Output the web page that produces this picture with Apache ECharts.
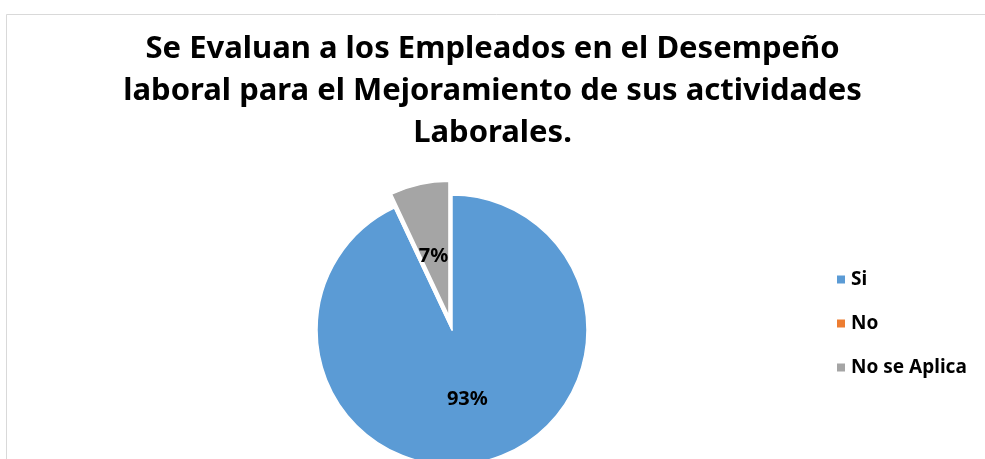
<!DOCTYPE html>
<html>
<head>
<meta charset="utf-8">
<script src="https://cdn.jsdelivr.net/npm/echarts@6/dist/echarts.min.js"></script>
<style>
  html, body { margin: 0; padding: 0; background: #fff; }
  #chart { width: 985px; height: 459px; }
</style>
</head>
<body>
<div id="chart"></div>
<script>
// datos
const categorias = ["Si", "No", "No se Aplica"];
const valores = [93, 0, 7];
const colores = ["#5B9BD5", "#ED7D31", "#A5A5A5"];
const titulo = "Se Evaluan a los Empleados en el Desempeño\nlaboral para el Mejoramiento de sus actividades\nLaborales.";

const FONT = "'Noto Sans', sans-serif";

const myChart = echarts.init(document.getElementById("chart"));

const datos = categorias.map((nombre, i) => {
  const item = {
    name: nombre,
    value: valores[i],
    itemStyle: { color: colores[i] }
  };
  if (valores[i] === 0) item.label = { show: false };
  if (nombre === "No se Aplica") {
    item.selected = true;
    // etiqueta un poco mas abajo, como en el original
    item.label = { formatter: "\n{c}%", lineHeight: 18 };
  }
  return item;
});

myChart.setOption({
  backgroundColor: "#fff",
  animation: false,
  graphic: [
    {
      type: "rect",
      shape: { x: 6.5, y: 14.5, width: 1000, height: 500 },
      style: { fill: "none", stroke: "#d9d9d9", lineWidth: 1 },
      silent: true
    }
  ],
  title: {
    text: titulo,
    left: "center",
    top: 23,
    textStyle: {
      fontFamily: FONT,
      fontWeight: "bold",
      fontSize: 31,
      lineHeight: 42,
      color: "#000"
    }
  },
  legend: {
    orient: "vertical",
    left: 830,
    top: 265,
    icon: "rect",
    itemWidth: 10,
    itemHeight: 10,
    itemGap: 25,
    data: categorias,
    textStyle: {
      fontFamily: FONT,
      fontWeight: "bold",
      fontSize: 19,
      color: "#000"
    }
  },
  series: [
    {
      type: "pie",
      center: [452, 330],
      radius: 135,
      startAngle: 90,
      clockwise: true,
      selectedMode: "single",
      selectedOffset: 14,
      avoidLabelOverlap: false,
      itemStyle: { borderColor: "#fff", borderWidth: 1.5 },
      label: {
        show: true,
        position: "inner",
        formatter: "{c}%",
        fontFamily: FONT,
        fontWeight: "bold",
        fontSize: 20,
        color: "#000"
      },
      labelLine: { show: false },
      emphasis: { disabled: true },
      data: datos
    }
  ]
});
</script>
</body>
</html>
